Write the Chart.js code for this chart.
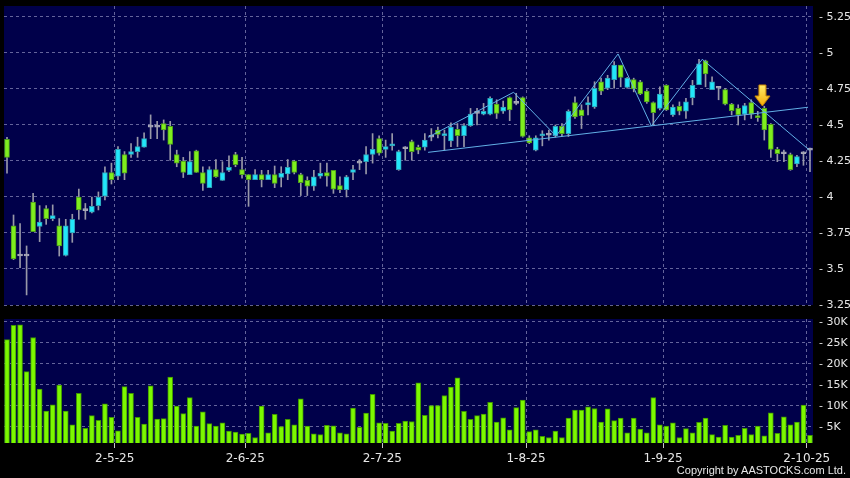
<!DOCTYPE html>
<html>
<head>
<meta charset="utf-8">
<script src="https://cdn.jsdelivr.net/npm/chart.js@4.4.1/dist/chart.umd.min.js"></script>
<style>
  html, body { margin: 0; padding: 0; background: #000; }
  #wrap { position: relative; width: 850px; height: 478px; overflow: hidden; }
  canvas { position: absolute; left: 0; }
  #price { top: 0; }
  #volume { top: 312px; }
  #copy { position: absolute; right: 4px; top: 464px; font: 11px "Liberation Sans", sans-serif; color: #e8e8e8; }
</style>
</head>
<body>
<div id="wrap">
  <canvas id="price" width="850" height="312"></canvas>
  <canvas id="volume" width="850" height="166"></canvas>
  <div id="copy">Copyright by AASTOCKS.com Ltd.</div>
</div>
<script>
// daily candles, 3 Apr 2025 - 2 Oct 2025 (one entry per trading day)
const open = [
  4.40, 3.80, 3.59, 3.59, 3.965, 3.795, 3.92, 3.85, 3.80, 3.595,
  3.75, 4.00, 3.905, 3.895, 3.94, 4.005, 4.17, 4.145, 4.295, 4.295,
  4.315, 4.345, 4.485, 4.485, 4.51, 4.49, 4.295, 4.25, 4.155, 4.32,
  4.17, 4.065, 4.19, 4.115, 4.185, 4.295, 4.19, 4.155, 4.12, 4.155,
  4.12, 4.155, 4.135, 4.16, 4.25, 4.155, 4.115, 4.075, 4.145, 4.17,
  4.185, 4.08, 4.05, 4.17, 4.235, 4.245, 4.295, 4.405, 4.33, 4.355,
  4.19, 4.335, 4.385, 4.345, 4.345, 4.415, 4.465, 4.425, 4.39, 4.47,
  4.425, 4.495, 4.58, 4.575, 4.575, 4.645, 4.595, 4.69, 4.65, 4.69,
  4.41, 4.325, 4.425, 4.43, 4.425, 4.49, 4.44, 4.655, 4.605, 4.64,
  4.625, 4.80, 4.755, 4.815, 4.915, 4.76, 4.815, 4.80, 4.735, 4.655,
  4.615, 4.775, 4.57, 4.63, 4.595, 4.69, 4.78, 4.945, 4.745, 4.755,
  4.745, 4.645, 4.615, 4.575, 4.655, 4.565, 4.615, 4.505, 4.33, 4.30,
  4.295, 4.23, 4.30, 4.325
];
const high = [
  4.415, 3.875, 3.815, 3.66, 4.025, 3.94, 3.94, 3.945, 3.85, 3.845,
  3.88, 4.055, 3.955, 4.00, 4.035, 4.21, 4.235, 4.35, 4.315, 4.37,
  4.415, 4.445, 4.57, 4.525, 4.535, 4.525, 4.325, 4.275, 4.315, 4.325,
  4.21, 4.21, 4.26, 4.245, 4.285, 4.31, 4.275, 4.155, 4.19, 4.185,
  4.185, 4.215, 4.21, 4.26, 4.255, 4.165, 4.14, 4.185, 4.235, 4.235,
  4.185, 4.14, 4.15, 4.22, 4.26, 4.35, 4.44, 4.425, 4.395, 4.44,
  4.325, 4.35, 4.395, 4.36, 4.44, 4.475, 4.485, 4.465, 4.515, 4.51,
  4.51, 4.615, 4.615, 4.65, 4.695, 4.675, 4.665, 4.695, 4.72, 4.695,
  4.425, 4.425, 4.46, 4.465, 4.50, 4.51, 4.605, 4.695, 4.64, 4.695,
  4.80, 4.825, 4.845, 4.94, 4.915, 4.83, 4.825, 4.81, 4.745, 4.66,
  4.765, 4.78, 4.64, 4.66, 4.685, 4.81, 4.955, 4.95, 4.835, 4.765,
  4.755, 4.65, 4.64, 4.65, 4.675, 4.595, 4.63, 4.51, 4.345, 4.325,
  4.305, 4.29, 4.315, 4.34
];
const low = [
  4.165, 3.565, 3.51, 3.32, 3.76, 3.69, 3.81, 3.835, 3.59, 3.59,
  3.685, 3.845, 3.845, 3.89, 3.91, 3.98, 4.09, 4.12, 4.12, 4.275,
  4.275, 4.345, 4.405, 4.405, 4.395, 4.255, 4.21, 4.135, 4.155, 4.17,
  4.045, 4.065, 4.135, 4.115, 4.175, 4.21, 4.13, 3.935, 4.12, 4.07,
  4.12, 4.065, 4.07, 4.12, 4.16, 4.01, 4.01, 4.045, 4.13, 4.075,
  4.025, 4.03, 4.00, 4.12, 4.19, 4.16, 4.235, 4.29, 4.275, 4.325,
  4.185, 4.255, 4.255, 4.30, 4.325, 4.39, 4.41, 4.325, 4.35, 4.35,
  4.35, 4.49, 4.50, 4.57, 4.57, 4.545, 4.58, 4.53, 4.64, 4.415,
  4.37, 4.32, 4.355, 4.395, 4.415, 4.42, 4.42, 4.545, 4.475, 4.57,
  4.615, 4.71, 4.745, 4.755, 4.765, 4.755, 4.73, 4.71, 4.65, 4.50,
  4.605, 4.60, 4.56, 4.57, 4.545, 4.64, 4.78, 4.765, 4.745, 4.675,
  4.64, 4.57, 4.50, 4.535, 4.545, 4.525, 4.395, 4.275, 4.245, 4.245,
  4.185, 4.21, 4.22, 4.175
];
const close = [
  4.275, 3.57, 3.59, 3.59, 3.76, 3.825, 3.85, 3.87, 3.66, 3.80,
  3.845, 3.91, 3.905, 3.935, 4.00, 4.17, 4.12, 4.33, 4.165, 4.315,
  4.35, 4.405, 4.485, 4.485, 4.465, 4.365, 4.235, 4.17, 4.245, 4.17,
  4.095, 4.19, 4.14, 4.17, 4.205, 4.225, 4.155, 4.12, 4.155, 4.12,
  4.155, 4.095, 4.165, 4.205, 4.17, 4.10, 4.075, 4.14, 4.165, 4.145,
  4.055, 4.05, 4.14, 4.19, 4.235, 4.295, 4.33, 4.305, 4.35, 4.365,
  4.315, 4.335, 4.315, 4.325, 4.395, 4.415, 4.435, 4.44, 4.485, 4.425,
  4.495, 4.575, 4.58, 4.595, 4.685, 4.58, 4.625, 4.605, 4.65, 4.42,
  4.375, 4.41, 4.435, 4.43, 4.49, 4.44, 4.595, 4.555, 4.565, 4.655,
  4.755, 4.735, 4.825, 4.915, 4.83, 4.825, 4.75, 4.715, 4.66, 4.585,
  4.715, 4.605, 4.625, 4.595, 4.66, 4.775, 4.925, 4.855, 4.80, 4.755,
  4.645, 4.60, 4.57, 4.635, 4.575, 4.55, 4.465, 4.33, 4.30, 4.30,
  4.19, 4.28, 4.30, 4.325
];
// volume in thousands of shares
const volumeK = [
  25.8, 29.2, 29.3, 18.2, 26.3, 14.0, 8.8, 10.3, 15.0, 8.8,
  5.5, 13.0, 4.7, 7.7, 6.6, 10.5, 7.3, 4.1, 14.6, 13.0,
  7.3, 5.7, 14.8, 6.9, 7.0, 16.9, 10.0, 8.2, 12.0, 5.2,
  8.6, 5.8, 5.2, 6.0, 4.0, 3.8, 3.3, 3.5, 2.5, 10.0,
  3.6, 8.0, 5.1, 6.8, 5.5, 11.7, 5.2, 3.4, 3.2, 5.4,
  5.3, 3.6, 3.4, 9.5, 4.9, 8.3, 12.8, 6.0, 5.9, 4.0,
  5.9, 6.4, 6.3, 15.5, 7.8, 10.1, 10.1, 12.5, 14.5, 16.7,
  8.7, 6.8, 7.7, 8.1, 10.9, 6.2, 7.2, 4.3, 9.6, 11.4,
  3.9, 4.3, 2.8, 2.5, 4.0, 2.5, 7.1, 9.0, 9.0, 9.8,
  9.4, 6.2, 9.3, 6.5, 7.1, 3.6, 7.1, 4.5, 3.6, 12.0,
  5.5, 5.2, 6.0, 2.5, 4.6, 3.6, 6.1, 7.1, 3.2, 2.6,
  5.4, 2.6, 3.0, 4.7, 3.2, 5.2, 2.9, 8.4, 3.5, 7.4,
  5.5, 6.2, 10.2, 3.0
];

const priceTicks = [3.25, 3.5, 3.75, 4, 4.25, 4.5, 4.75, 5, 5.25];
const volumeTicks = [5, 10, 15, 20, 25, 30];
const dateLabels = ['2-5-25', '2-6-25', '2-7-25', '1-8-25', '1-9-25', '2-10-25'];
const dateIndex = [17, 37, 58, 80, 101, 123];

// pattern lines drawn on the chart, in (candle index, price)
const necklineX = [64.5, 122.7];
const necklineY = [4.31, 4.623];
const zigzagX = [64.5, 77.6, 84.1, 93.6, 98.7, 106.5, 122.9];
const zigzagY = [4.415, 4.727, 4.424, 4.993, 4.493, 4.956, 4.326];
const arrowX = 115.7;
const arrowY = 4.705;

const NAVY = '#00004a';
const GRID = 'rgba(125,125,175,0.8)';
const TEXT = '#e6e6e6';
const LINE = '#62b0e6';
const xMin = -0.46, xMax = 123.46;

const bodyFill = open.map((o, i) => close[i] > o ? '#22e6fa' : close[i] < o ? '#7fee1e' : '#a8a8b8');
const bodyEdge = open.map((o, i) => close[i] > o ? '#2f9fb6' : close[i] < o ? '#4c9c1c' : '#a8a8b8');

// yellow arrow marker
const arrowImg = document.createElement('canvas');
arrowImg.width = 17;
arrowImg.height = 23;
const g = arrowImg.getContext('2d');
const grad = g.createLinearGradient(0, 0, 0, 23);
grad.addColorStop(0, '#fff070');
grad.addColorStop(1, '#f5a800');
g.beginPath();
g.moveTo(5, 1); g.lineTo(12, 1); g.lineTo(12, 12); g.lineTo(16, 12);
g.lineTo(8.5, 22); g.lineTo(1, 12); g.lineTo(5, 12); g.closePath();
g.fillStyle = grad;
g.fill();
g.strokeStyle = '#d08a00';
g.stroke();

const navyBg = {
  id: 'navyBg',
  beforeDraw(chart) {
    const { ctx, chartArea: a } = chart;
    ctx.save();
    ctx.fillStyle = NAVY;
    ctx.fillRect(a.left, a.top, a.width, a.height);
    ctx.restore();
  }
};

const dateTicks = s => { s.ticks = dateIndex.map(i => ({ value: i - 0.5 })); };
const axisFont = { family: 'DejaVu Sans', size: 11, lineHeight: 1 };

new Chart(document.getElementById('price'), {
  type: 'bar',
  data: {
    datasets: [{
      type: 'scatter',
      data: [{ x: arrowX, y: arrowY }],
      pointStyle: arrowImg,
      pointRadius: 8,
      order: 0
    }, {
      type: 'line',
      data: necklineX.map((x, i) => ({ x, y: necklineY[i] })),
      borderColor: LINE,
      borderWidth: 1,
      pointRadius: 0,
      order: 1
    }, {
      type: 'line',
      data: zigzagX.map((x, i) => ({ x, y: zigzagY[i] })),
      borderColor: LINE,
      borderWidth: 1,
      pointRadius: 0,
      order: 1
    }, {
      data: open.map((o, i) => ({ x: i, y: [o, close[i]] })),
      backgroundColor: bodyFill,
      borderColor: bodyEdge,
      borderWidth: 1,
      borderSkipped: false,
      barThickness: 5,
      minBarLength: 2,
      grouped: false,
      order: 2
    }, {
      data: low.map((l, i) => ({ x: i, y: [l, high[i]] })),
      backgroundColor: '#9898a8',
      borderWidth: 0,
      barThickness: 1,
      grouped: false,
      order: 3
    }]
  },
  options: {
    responsive: false,
    animation: false,
    devicePixelRatio: 1,
    layout: { autoPadding: false, padding: { left: 4, top: 6, bottom: 7, right: 0 } },
    plugins: { legend: { display: false }, tooltip: { enabled: false } },
    scales: {
      x: {
        type: 'linear', min: xMin, max: xMax, offset: false,
        afterBuildTicks: dateTicks,
        afterFit: s => { s.height = 0; },
        ticks: { display: false },
        grid: { color: GRID, offset: false, drawTicks: false },
        border: { display: false, dash: [3, 3] }
      },
      y: {
        position: 'right', min: 3.25, max: 5.326,
        afterBuildTicks: s => { s.ticks = priceTicks.map(v => ({ value: v })); },
        afterFit: s => { s.width = 37; },
        ticks: { color: TEXT, padding: 0, font: axisFont, callback: v => '- ' + v },
        grid: { color: GRID, tickLength: 6, tickColor: 'transparent' },
        border: { display: false, dash: [3, 3] }
      }
    }
  },
  plugins: [navyBg]
});

new Chart(document.getElementById('volume'), {
  type: 'bar',
  data: {
    datasets: [{
      data: volumeK.map((v, i) => ({ x: i, y: v })),
      backgroundColor: '#7cf800',
      borderColor: '#3f9600',
      borderWidth: 1,
      barThickness: 5
    }]
  },
  options: {
    responsive: false,
    animation: false,
    devicePixelRatio: 1,
    layout: { autoPadding: false, padding: { left: 4, top: 7, bottom: 0, right: 0 } },
    plugins: { legend: { display: false }, tooltip: { enabled: false } },
    scales: {
      x: {
        type: 'linear', min: xMin, max: xMax, offset: false,
        afterBuildTicks: dateTicks,
        afterFit: s => { s.height = 35; },
        ticks: {
          color: TEXT, padding: 4, autoSkip: false, maxRotation: 0,
          font: { family: 'DejaVu Sans', size: 12 },
          callback: (v, i) => dateLabels[i]
        },
        grid: { color: GRID, offset: false, tickLength: 5, tickColor: '#c8c8c8' },
        border: { display: false, dash: [3, 3] }
      },
      y: {
        position: 'right', min: 1.19, max: 30.71,
        afterBuildTicks: s => { s.ticks = volumeTicks.map(v => ({ value: v })); },
        afterFit: s => { s.width = 37; },
        ticks: { color: TEXT, padding: 0, font: axisFont, callback: v => '- ' + v + 'K' },
        grid: { color: GRID, tickLength: 6, tickColor: 'transparent' },
        border: { display: false, dash: [3, 3] }
      }
    }
  },
  plugins: [navyBg]
});
</script>
</body>
</html>
